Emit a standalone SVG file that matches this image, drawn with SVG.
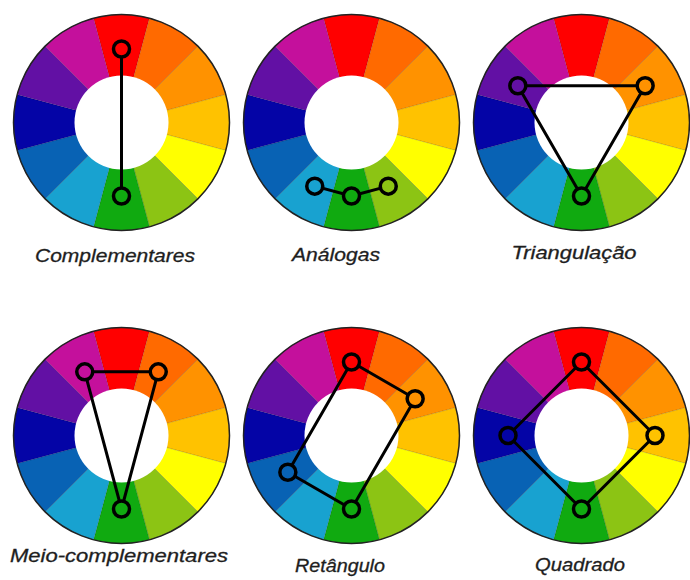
<svg xmlns="http://www.w3.org/2000/svg" xmlns:xlink="http://www.w3.org/1999/xlink" width="690" height="580" viewBox="0 0 690 580">
  <style>
    .seg { stroke: rgba(0,0,0,0.12); stroke-width: 1; }
    .rim { fill: none; stroke: #222; stroke-width: 1.5; }
    .hole { fill: #fff; }
    .link { fill: none; stroke: #000; stroke-width: 3; stroke-linejoin: round; }
    .mark { stroke: #000; stroke-width: 3.5; }
    .label { font-family: "Liberation Sans", "DejaVu Sans", sans-serif; font-style: italic; font-size: 18px; fill: #1e1e1e; text-anchor: middle; stroke: #1e1e1e; stroke-width: 0.3; }
  </style>
  <defs>
    <g id="wheel">
      <path class="seg" fill="#FF0000" d="M0,0 L-27.952,-104.320 A108,108 0 0 1 27.952,-104.320 Z"/>
      <path class="seg" fill="#FF6A00" d="M0,0 L27.952,-104.320 A108,108 0 0 1 76.368,-76.368 Z"/>
      <path class="seg" fill="#FF9200" d="M0,0 L76.368,-76.368 A108,108 0 0 1 104.320,-27.952 Z"/>
      <path class="seg" fill="#FFC200" d="M0,0 L104.320,-27.952 A108,108 0 0 1 104.320,27.952 Z"/>
      <path class="seg" fill="#FFFF00" d="M0,0 L104.320,27.952 A108,108 0 0 1 76.368,76.368 Z"/>
      <path class="seg" fill="#8CC414" d="M0,0 L76.368,76.368 A108,108 0 0 1 27.952,104.320 Z"/>
      <path class="seg" fill="#10AA10" d="M0,0 L27.952,104.320 A108,108 0 0 1 -27.952,104.320 Z"/>
      <path class="seg" fill="#18A2D0" d="M0,0 L-27.952,104.320 A108,108 0 0 1 -76.368,76.368 Z"/>
      <path class="seg" fill="#0862B4" d="M0,0 L-76.368,76.368 A108,108 0 0 1 -104.320,27.952 Z"/>
      <path class="seg" fill="#0404A6" d="M0,0 L-104.320,27.952 A108,108 0 0 1 -104.320,-27.952 Z"/>
      <path class="seg" fill="#6210A4" d="M0,0 L-104.320,-27.952 A108,108 0 0 1 -76.368,-76.368 Z"/>
      <path class="seg" fill="#C4109C" d="M0,0 L-76.368,-76.368 A108,108 0 0 1 -27.952,-104.320 Z"/>
      <circle class="rim" r="108"/>
      <circle class="hole" r="47"/>
    </g>
  </defs>

  <g id="wheel-complementares"><use xlink:href="#wheel" href="#wheel" x="121.5" y="122.5"/></g>
  <g id="wheel-analogas"><use xlink:href="#wheel" href="#wheel" x="351.5" y="122.5"/></g>
  <g id="wheel-triangulacao"><use xlink:href="#wheel" href="#wheel" x="581.5" y="122.5"/></g>
  <g id="wheel-meio"><use xlink:href="#wheel" href="#wheel" x="121.5" y="435.5"/></g>
  <g id="wheel-retangulo"><use xlink:href="#wheel" href="#wheel" x="351.5" y="435.5"/></g>
  <g id="wheel-quadrado"><use xlink:href="#wheel" href="#wheel" x="581.5" y="435.5"/></g>

  <g id="connectors">
    <line class="link" x1="121.5" y1="49" x2="121.5" y2="196"/>
    <polyline class="link" points="314.75,186.15 351.5,196 388.25,186.15"/>
    <polygon class="link" points="517.85,85.75 645.15,85.75 581.5,196"/>
    <polygon class="link" points="84.75,371.85 158.25,371.85 121.5,509"/>
    <polygon class="link" points="351.5,362 415.15,398.75 351.5,509 287.85,472.25"/>
    <polygon class="link" points="581.5,362 655,435.5 581.5,509 508,435.5"/>
  </g>

  <g id="markers">
    <circle class="mark" cx="121.5" cy="49" r="8" fill="#FF0000"/>
    <circle class="mark" cx="121.5" cy="196" r="8" fill="#10AA10"/>

    <circle class="mark" cx="314.75" cy="186.15" r="8" fill="#18A2D0"/>
    <circle class="mark" cx="351.5" cy="196" r="8" fill="#10AA10"/>
    <circle class="mark" cx="388.25" cy="186.15" r="8" fill="#8CC414"/>

    <circle class="mark" cx="517.85" cy="85.75" r="8" fill="#6210A4"/>
    <circle class="mark" cx="645.15" cy="85.75" r="8" fill="#FF9200"/>
    <circle class="mark" cx="581.5" cy="196" r="8" fill="#10AA10"/>

    <circle class="mark" cx="84.75" cy="371.85" r="8" fill="#C4109C"/>
    <circle class="mark" cx="158.25" cy="371.85" r="8" fill="#FF6A00"/>
    <circle class="mark" cx="121.5" cy="509" r="8" fill="#10AA10"/>

    <circle class="mark" cx="351.5" cy="362" r="8" fill="#FF0000"/>
    <circle class="mark" cx="415.15" cy="398.75" r="8" fill="#FF9200"/>
    <circle class="mark" cx="351.5" cy="509" r="8" fill="#10AA10"/>
    <circle class="mark" cx="287.85" cy="472.25" r="8" fill="#0862B4"/>

    <circle class="mark" cx="581.5" cy="362" r="8" fill="#FF0000"/>
    <circle class="mark" cx="655" cy="435.5" r="8" fill="#FFC200"/>
    <circle class="mark" cx="581.5" cy="509" r="8" fill="#10AA10"/>
    <circle class="mark" cx="508" cy="435.5" r="8" fill="#0404A6"/>
  </g>

  <g id="labels">
    <text class="label" x="115" y="262" textLength="160" lengthAdjust="spacingAndGlyphs">Complementares</text>
    <text class="label" x="336" y="261" textLength="88" lengthAdjust="spacingAndGlyphs">Análogas</text>
    <text class="label" x="574" y="259" textLength="125" lengthAdjust="spacingAndGlyphs">Triangulação</text>
    <text class="label" x="119" y="562" textLength="218" lengthAdjust="spacingAndGlyphs">Meio-complementares</text>
    <text class="label" x="340" y="572" textLength="90" lengthAdjust="spacingAndGlyphs">Retângulo</text>
    <text class="label" x="580" y="571" textLength="90" lengthAdjust="spacingAndGlyphs">Quadrado</text>
  </g>
</svg>
